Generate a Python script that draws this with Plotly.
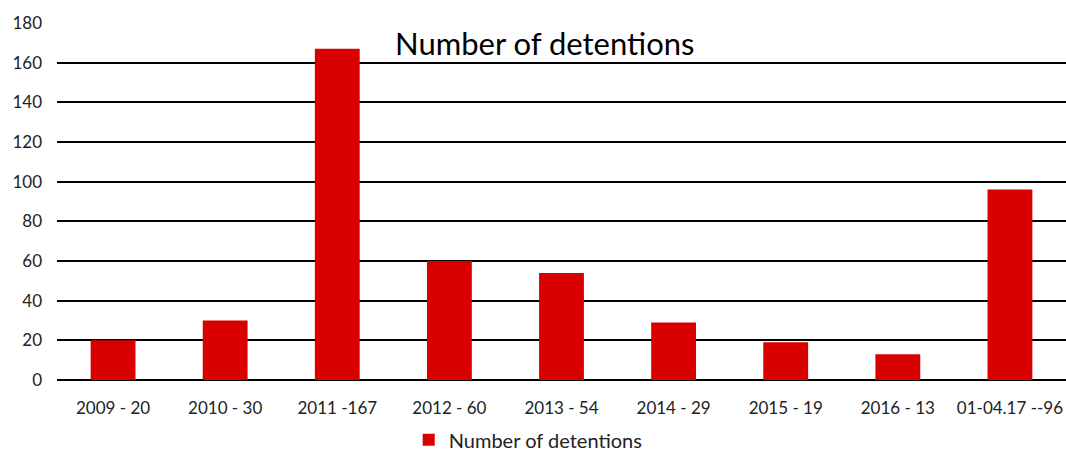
import plotly.graph_objects as go

categories = ["2009 - 20", "2010 - 30", "2011 -167", "2012 - 60", "2013 - 54",
              "2014 - 29", "2015 - 19", "2016 - 13", "01-04.17 --96"]
values = [20, 30, 167, 60, 54, 29, 19, 13, 96]
series_name = "Number of detentions"
title_text = "Number of detentions"

FONT = "Lato, 'Noto Sans', sans-serif"

fig = go.Figure()
fig.add_trace(go.Bar(
    x=categories, y=values, name=series_name,
    marker=dict(color="#D90000", line=dict(width=0)),
    showlegend=True,
))

fig.update_layout(
    width=1066, height=451,
    margin=dict(l=57, r=0, t=23, b=71),
    paper_bgcolor="white", plot_bgcolor="white",
    bargap=0.6,
    font=dict(family=FONT, size=17, color="#222"),
    xaxis=dict(showgrid=False, showline=False, ticks="", automargin=False,
               ticklabelstandoff=16, tickfont=dict(size=17)),
    yaxis=dict(range=[0, 180], dtick=20, showgrid=True, gridcolor="black", gridwidth=2,
               zeroline=True, zerolinecolor="black", zerolinewidth=2, automargin=False,
               showline=False, ticks="", ticklabelstandoff=14, tickfont=dict(size=17)),
    legend=dict(orientation="h", x=0.467, xanchor="center", y=0.025, yanchor="middle",
                yref="container", font=dict(size=20), itemwidth=30),
    annotations=[dict(text=title_text, xref="paper", yref="paper", x=0.4836, y=0.944,
                      xanchor="center", yanchor="middle", showarrow=False,
                      font=dict(size=31, color="black", family=FONT))],
)

fig.write_html(
    "out.html",
    config={"displayModeBar": False},
    post_script="document.body.style.margin='0';document.body.style.overflow='hidden';",
)
